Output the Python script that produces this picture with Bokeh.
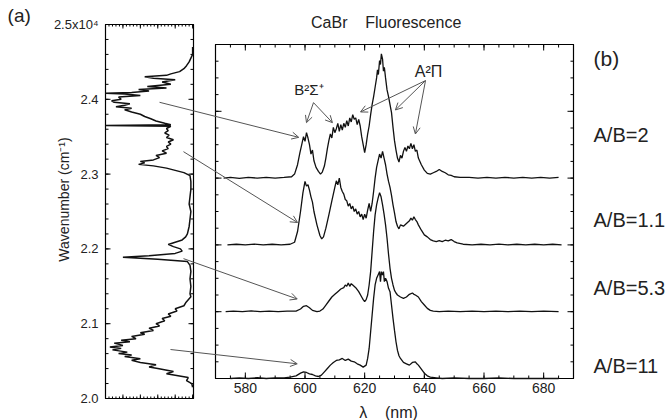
import math
from bokeh.plotting import figure
from bokeh.models import Range1d, Label, Arrow, OpenHead, ColumnDataSource
from bokeh.core.properties import value
from bokeh.embed import file_html
from bokeh.resources import INLINE

FONT = "Liberation Sans"
INK = "#111111"
NB = "\u00a0"

# ---------------- data ----------------
# (a) excitation spectrum: (wavenumber / 1e4 cm-1, intensity)
left_spectrum = [
    (2.015, 0.0), (2.02, 0.01), (2.024, 0.07), (2.028, 0.05), (2.033, 0.3), (2.036, 0.22),
    (2.040, 0.4), (2.042, 0.5), (2.045, 0.42), (2.048, 0.6), (2.051, 0.7), (2.053, 0.6),
    (2.056, 0.78), (2.058, 0.7), (2.060, 0.85), (2.062, 0.75), (2.065, 0.92), (2.067, 0.82),
    (2.069, 0.95), (2.071, 0.8), (2.074, 0.9), (2.076, 0.72), (2.078, 0.82), (2.080, 0.65),
    (2.083, 0.7), (2.086, 0.55), (2.088, 0.6), (2.091, 0.45), (2.094, 0.5), (2.097, 0.38),
    (2.100, 0.42), (2.104, 0.32), (2.107, 0.35), (2.110, 0.25), (2.113, 0.28), (2.117, 0.18),
    (2.120, 0.2), (2.124, 0.1), (2.128, 0.08), (2.132, 0.05), (2.136, 0.02), (2.14, 0.03),
    (2.15, 0.02), (2.16, 0.03), (2.17, 0.02), (2.178, 0.03), (2.183, 0.06), (2.186, 0.4),
    (2.189, 0.8), (2.191, 0.5), (2.194, 0.2), (2.197, 0.12), (2.200, 0.14), (2.203, 0.22),
    (2.206, 0.28), (2.209, 0.2), (2.212, 0.12), (2.216, 0.08), (2.22, 0.06), (2.23, 0.04),
    (2.24, 0.03), (2.25, 0.02), (2.26, 0.04), (2.27, 0.03), (2.28, 0.02), (2.29, 0.02),
    (2.298, 0.03), (2.302, 0.1), (2.305, 0.2), (2.308, 0.3), (2.311, 0.45), (2.313, 0.62),
    (2.315, 0.55), (2.317, 0.6), (2.319, 0.45), (2.322, 0.38), (2.325, 0.42), (2.328, 0.3),
    (2.331, 0.35), (2.334, 0.28), (2.337, 0.3), (2.340, 0.25), (2.343, 0.28), (2.346, 0.22),
    (2.349, 0.3), (2.352, 0.27), (2.355, 0.32), (2.358, 0.28), (2.361, 0.3), (2.364, 0.25),
    (2.365, 1.0), (2.366, 0.25), (2.368, 0.32), (2.371, 0.42), (2.374, 0.48), (2.377, 0.55),
    (2.380, 0.6), (2.383, 0.7), (2.386, 0.78), (2.388, 0.7), (2.390, 0.88), (2.392, 0.78),
    (2.394, 0.72), (2.396, 0.9), (2.398, 0.93), (2.400, 0.82), (2.403, 0.85), (2.405, 0.6),
    (2.407, 0.78), (2.408, 1.0), (2.409, 0.7), (2.411, 0.5), (2.413, 0.62), (2.415, 0.3),
    (2.417, 0.52), (2.420, 0.25), (2.423, 0.35), (2.426, 0.2), (2.428, 0.45), (2.430, 0.55),
    (2.432, 0.3), (2.434, 0.25), (2.437, 0.15), (2.441, 0.1), (2.445, 0.07), (2.450, 0.04),
    (2.455, 0.02), (2.460, 0.0), (2.47, 0.0),
]

# (b) fluorescence spectra: (wavelength nm, intensity above own baseline)
spec_ab2 = [
    (572.7, 0.0), (575, 0.01), (578, -0.005), (581, 0.01), (584, 0.0), (587, 0.012), (590, 0.0),
    (593, 0.01), (595.5, 0.02), (596.5, 0.06), (597.5, 0.2), (598.3, 0.38), (599, 0.52),
    (599.5, 0.62), (600, 0.55), (600.5, 0.68), (601, 0.6), (601.5, 0.5), (602, 0.36), (602.5, 0.42),
    (603, 0.26), (603.7, 0.16), (604.5, 0.1), (605.2, 0.06), (605.8, 0.09), (606.5, 0.18),
    (607, 0.3), (607.5, 0.44), (608, 0.56), (608.5, 0.66), (609, 0.6), (609.5, 0.76), (610, 0.68),
    (610.5, 0.74), (611, 0.82), (611.5, 0.7), (612, 0.8), (612.5, 0.72), (613, 0.82), (613.5, 0.76),
    (614, 0.86), (614.5, 0.78), (615, 0.9), (615.5, 0.84), (616, 0.95), (616.5, 0.88), (617, 0.9),
    (617.5, 0.8), (618, 0.88), (618.5, 0.78), (619, 0.62), (619.5, 0.5), (620, 0.38), (620.5, 0.5),
    (621, 0.66), (621.5, 0.78), (622, 0.95), (622.5, 1.1), (623, 1.22), (623.5, 1.36), (624, 1.5),
    (624.3, 1.62), (624.6, 1.55), (625, 1.76), (625.3, 1.7), (625.6, 1.86), (626, 1.78),
    (626.3, 1.6), (626.6, 1.66), (627, 1.5), (627.5, 1.32), (628, 1.22), (628.5, 1.1), (629, 0.98),
    (629.5, 0.76), (630, 0.56), (630.5, 0.42), (631, 0.3), (631.5, 0.24), (632, 0.34), (632.5, 0.3),
    (633, 0.4), (633.5, 0.46), (634, 0.4), (634.5, 0.48), (635, 0.44), (635.5, 0.52), (636, 0.44),
    (636.5, 0.5), (637, 0.4), (637.5, 0.42), (638, 0.3), (639, 0.2), (640, 0.12), (641, 0.07),
    (642, 0.06), (643, 0.08), (644, 0.1), (645, 0.13), (646, 0.1), (647, 0.08), (648, 0.05),
    (649, 0.04), (650, 0.02), (652, 0.01), (655, 0.012), (658, 0.0), (661, 0.01), (664, 0.0),
    (667, 0.012), (670, 0.0), (673, 0.01), (676, 0.0), (679, 0.01), (682, 0.0), (685, 0.01),
]
spec_ab1_1 = [
    (574, 0.0), (577, 0.01), (580, 0.0), (583, 0.012), (586, 0.0), (589, 0.01), (592, 0.0),
    (595, 0.01), (596.5, 0.04), (597.5, 0.2), (598.5, 0.5), (599.3, 0.78), (600, 0.95),
    (600.5, 0.88), (601, 0.9), (601.5, 0.82), (602, 0.72), (602.5, 0.64), (603, 0.5), (604, 0.3),
    (605, 0.14), (605.6, 0.09), (606.2, 0.12), (607, 0.25), (608, 0.45), (609, 0.66), (609.5, 0.76),
    (610, 0.86), (610.5, 0.96), (611, 0.9), (611.5, 1.0), (612, 0.86), (612.5, 0.8), (613, 0.76),
    (613.5, 0.68), (614, 0.66), (614.5, 0.58), (615, 0.62), (615.5, 0.54), (616, 0.58),
    (616.5, 0.5), (617, 0.54), (617.5, 0.46), (618, 0.5), (618.5, 0.42), (619, 0.46), (619.5, 0.38),
    (620, 0.46), (620.5, 0.4), (621, 0.52), (621.5, 0.62), (622, 0.5), (622.5, 0.62), (623, 0.8),
    (623.5, 1.0), (624, 1.16), (624.5, 1.26), (625, 1.36), (625.5, 1.3), (626, 1.4), (626.5, 1.3),
    (627, 1.2), (627.5, 1.06), (628, 0.95), (628.5, 0.86), (629, 0.74), (629.5, 0.6), (630, 0.48),
    (630.5, 0.35), (631, 0.28), (631.5, 0.24), (632, 0.3), (633, 0.28), (634, 0.32), (635, 0.36),
    (635.5, 0.4), (636, 0.37), (636.5, 0.42), (637, 0.38), (637.5, 0.35), (638, 0.3), (639, 0.22),
    (640, 0.15), (641, 0.12), (642, 0.08), (643, 0.06), (644, 0.05), (645, 0.065), (646, 0.05),
    (647, 0.07), (648, 0.06), (649, 0.08), (650, 0.05), (651, 0.03), (653, 0.01), (656, 0.0),
    (659, 0.01), (662, 0.0), (665, 0.012), (668, 0.0), (671, 0.01), (674, 0.0), (677, 0.01),
    (680, 0.0), (683, 0.01), (686, 0.0),
]
spec_ab5_3 = [
    (573.4, 0.0), (576, 0.01), (579, 0.0), (582, 0.012), (585, 0.0), (588, 0.01), (591, 0.0),
    (594, 0.01), (597, 0.01), (598.5, 0.04), (599.5, 0.08), (600.5, 0.09), (601.5, 0.06),
    (602.5, 0.02), (604, 0.0), (605, 0.01), (606, 0.04), (607, 0.1), (608, 0.16), (609, 0.22),
    (610, 0.26), (611, 0.3), (612, 0.34), (613, 0.36), (613.5, 0.4), (614, 0.38), (614.5, 0.43),
    (615, 0.38), (615.5, 0.42), (616, 0.4), (617, 0.36), (618, 0.3), (619, 0.22), (619.5, 0.18),
    (620, 0.15), (620.5, 0.18), (621, 0.25), (621.5, 0.4), (622, 0.6), (622.5, 0.9), (623, 1.2),
    (623.5, 1.45), (624, 1.6), (624.5, 1.7), (625, 1.78), (625.5, 1.72), (626, 1.6), (626.5, 1.46),
    (627, 1.3), (627.5, 1.1), (628, 0.86), (628.5, 0.65), (629, 0.5), (629.5, 0.4), (630, 0.32),
    (630.5, 0.28), (631, 0.25), (632, 0.22), (633, 0.2), (634, 0.22), (635, 0.26), (636, 0.28),
    (636.5, 0.26), (637, 0.25), (638, 0.22), (639, 0.15), (640, 0.1), (641, 0.05), (642, 0.02),
    (643, 0.01), (645, 0.0), (648, 0.01), (652, 0.0), (656, 0.01), (660, 0.0), (664, 0.01),
    (668, 0.0), (672, 0.01), (676, 0.0), (680, 0.01), (685, 0.0),
]
spec_ab11 = [
    (575, 0.0), (578, 0.01), (581, 0.0), (584, 0.012), (587, 0.0), (590, 0.01), (593, 0.01),
    (595, 0.02), (597, 0.04), (598.5, 0.08), (599.5, 0.1), (600.5, 0.09), (601.5, 0.07),
    (602.5, 0.06), (603.5, 0.04), (604.5, 0.03), (605.5, 0.05), (606.5, 0.1), (607.5, 0.15),
    (608.5, 0.2), (609.5, 0.24), (610.5, 0.27), (611.5, 0.28), (612.5, 0.3), (613.5, 0.27),
    (614.5, 0.29), (615.5, 0.26), (616.5, 0.25), (617.5, 0.22), (618.5, 0.2), (619.5, 0.17),
    (620.5, 0.2), (621, 0.3), (621.5, 0.45), (622, 0.7), (622.5, 0.95), (623, 1.2), (623.5, 1.4),
    (624, 1.5), (624.5, 1.55), (625, 1.6), (625.3, 1.45), (625.6, 1.6), (626, 1.55), (626.3, 1.6),
    (626.6, 1.45), (627, 1.5), (627.5, 1.45), (628, 1.35), (628.5, 1.3), (629, 1.1), (629.5, 0.9),
    (630, 0.72), (630.5, 0.55), (631, 0.42), (631.5, 0.34), (632, 0.3), (633, 0.24), (634, 0.22),
    (635, 0.2), (636, 0.24), (637, 0.25), (637.5, 0.22), (638, 0.2), (639, 0.14), (640, 0.08),
    (641, 0.04), (642, 0.02), (644, 0.01), (646, 0.0), (650, 0.01), (655, 0.0), (660, 0.0),
    (665, 0.01), (670, 0.0), (675, 0.0), (680, 0.0), (685, 0.0),
]
series_names = ["A/B=2", "A/B=1.1", "A/B=5.3", "A/B=11"]
series_offsets = [3, 2, 1, 0]
series_data = [spec_ab2, spec_ab1_1, spec_ab5_3, spec_ab11]

a_tick_values = [2.0, 2.1, 2.2, 2.3, 2.4, 2.5]
a_tick_labels = ["2.0", "2.1", "2.2", "2.3", "2.4", "2.5x10\u2074"]
b_tick_values = [580, 600, 620, 640, 660, 680]
b_tick_labels = ["580", "600", "620", "640", "660", "680"]

# arrows from (a) to (b): start (intensity, wavenumber) in (a), end (nm, offset intensity) in (b)
cross_start_int = [0.38, 0.105, 0.105, 0.254]
cross_start_wn = [2.396, 2.330, 2.187, 2.0655]
cross_end_wl = [597.9, 597.5, 597.4, 597.4]
cross_end_y = [3.61, 2.335, 1.19, 0.22]
# band-label arrows inside (b)
band_start_wl = [602.85, 602.85, 640.4, 640.4, 640.4]
band_start_y = [4.13, 4.13, 4.46, 4.46, 4.46]
band_end_wl = [600.5, 609.2, 618.6, 630.3, 637.0]
band_end_y = [3.83, 3.83, 3.99, 4.02, 3.66]

# ---------------- geometry (pixels) ----------------
W, H = 670, 420
A_L, A_R, A_T, A_B = 105, 193, 24, 398     # panel (a) box
B_L, B_R, B_T, B_B = 215, 573, 44, 378     # panel (b) box
AX0, AX1 = 1.0, -0.01                       # panel (a) intensity (reversed)
AY0, AY1 = 2.0, 2.5                         # panel (a) wavenumber
BX0, BX1 = 570.0, 690.0                     # panel (b) wavelength
BY0, BY1 = 0.0, 5.0                         # panel (b) stacked intensity
SX = (AX1 - AX0) / (A_R - A_L)
SY = (AY1 - AY0) / (A_B - A_T)
KX = (BX1 - BX0) / (B_R - B_L)
KY = (BY1 - BY0) / (B_B - B_T)


def a_to_b(i, wn):
    px = A_L + (i - AX0) / SX
    py = A_B - (wn - AY0) / SY
    return BX0 + (px - B_L) * KX, BY0 + (B_B - py) * KY


p = figure(width=W, height=H,
           x_range=Range1d(BX0 - B_L * KX, BX0 + (W - B_L) * KX),
           y_range=Range1d(BY0 + (B_B - H) * KY, BY0 + B_B * KY),
           output_backend="svg", toolbar_location=None, title=None,
           x_axis_location=None, y_axis_location=None, min_border=0)
p.extra_x_ranges = {"a_x": Range1d(AX0 - A_L * SX, AX0 + (W - A_L) * SX)}
p.extra_y_ranges = {"a_y": Range1d(AY0 + (A_B - H) * SY, AY0 + A_B * SY)}
p.grid.visible = False
p.outline_line_color = None
p.background_fill_color = "white"
p.border_fill_color = "white"

A = dict(x_range_name="a_x", y_range_name="a_y")

# panel boxes
p.quad(left=[AX0], right=[AX1], bottom=[AY0], top=[AY1], fill_color="white",
       line_color="black", line_width=1.2, **A)
p.quad(left=[BX0], right=[BX1], bottom=[BY0], top=[BY1], fill_color="white",
       line_color="black", line_width=1.2)


def ticks(xs, ys, angle, length, **kw):
    p.ray(x=xs, y=ys, length=length, angle=angle, length_units="screen",
          line_color="black", line_width=1, **kw)


# panel (a) ticks
a_minor_y = [round(AY0 + 0.02 * k, 3) for k in range(26)]
a_minor_x = [round(0.04 * k, 3) for k in range(26)]
a_major_x = [0.0, 0.2, 0.4, 0.6, 0.8, 1.0]
ticks([AX0] * 6, a_tick_values, 0, 5, **A)
ticks([AX0] * 26, a_minor_y, 0, 3, **A)
ticks([AX1] * 6, a_tick_values, math.pi, 5, **A)
ticks([AX1] * 26, a_minor_y, math.pi, 3, **A)
ticks(a_major_x, [AY0] * 6, math.pi / 2, 4, **A)
ticks(a_minor_x, [AY0] * 26, math.pi / 2, 2, **A)
ticks(a_major_x, [AY1] * 6, -math.pi / 2, 4, **A)
ticks(a_minor_x, [AY1] * 26, -math.pi / 2, 2, **A)

# panel (b) ticks
b_minor_x = list(range(570, 691, 5))
b_major_y = [0, 1, 2, 3, 4, 5]
b_minor_y = [0.25 * k for k in range(21)]
ticks(b_tick_values, [BY0] * 6, math.pi / 2, 6)
ticks(b_minor_x, [BY0] * len(b_minor_x), math.pi / 2, 3)
ticks(b_tick_values, [BY1] * 6, -math.pi / 2, 6)
ticks(b_minor_x, [BY1] * len(b_minor_x), -math.pi / 2, 3)
ticks([BX0] * 6, b_major_y, 0, 6)
ticks([BX0] * 21, b_minor_y, 0, 3)
ticks([BX1] * 6, b_major_y, math.pi, 6)
ticks([BX1] * 21, b_minor_y, math.pi, 3)

# spectra
lw, li = zip(*left_spectrum)
p.line(x=list(li), y=list(lw), line_color=INK, line_width=1.5, **A)
for data, off in zip(series_data, series_offsets):
    wl, it = zip(*data)
    p.line(x=list(wl), y=[v + off for v in it], line_color=INK, line_width=1.3)

# tick labels
p.text(x=[AX0] * 6, y=a_tick_values, text=a_tick_labels, x_offset=-7,
       text_font=value(FONT), text_font_size=value("13px"), text_color="#222",
       text_align="right", text_baseline="middle", **A)
p.text(x=b_tick_values, y=[BY0] * 6, text=b_tick_labels, y_offset=4,
       text_font=value(FONT), text_font_size=value("14px"), text_color="#222",
       text_align="center", text_baseline="top")

# axis titles
p.text(x=[AX0], y=[(AY0 + AY1) / 2], text=["Wavenumber (cm\u207b\u00b9)"], x_offset=-42,
       y_offset=-12, angle=math.pi / 2, text_font=value(FONT), text_font_size=value("14px"),
       text_color="#222", text_align="center", text_baseline="middle", **A)
p.text(x=[(BX0 + BX1) / 2], y=[BY0], text=["\u03bb" + NB * 4 + "(nm)"], x_offset=-6,
       y_offset=34, text_font=value(FONT), text_font_size=value("16px"), text_color="#222",
       text_align="center", text_baseline="middle")

# arrows
xs0, ys0 = [], []
for i, wn in zip(cross_start_int, cross_start_wn):
    sx, sy = a_to_b(i, wn)
    xs0.append(sx)
    ys0.append(sy)
arrow_src = ColumnDataSource(dict(
    x0=xs0 + band_start_wl, y0=ys0 + band_start_y,
    x1=cross_end_wl + band_end_wl, y1=cross_end_y + band_end_y))
p.add_layout(Arrow(source=arrow_src, x_start="x0", y_start="y0", x_end="x1", y_end="y1",
                   line_color="#555", line_width=1,
                   end=OpenHead(size=7, line_color="#555", line_width=1)))

# text labels
label_y = [3.64, 2.37, 1.36, 0.19]
p.text(x=[696.7] * 4, y=label_y, text=series_names, text_font=value(FONT),
       text_font_size=value("20px"), text_color="#222", text_align="left",
       text_baseline="middle")
p.add_layout(Label(x=696.7, y=4.79, text="(b)", text_font=FONT, text_font_size="21px",
                   text_color="#222", text_align="left", text_baseline="middle"))
p.add_layout(Label(x=500.3, y=5.434, text="(a)", text_font=FONT, text_font_size="19px",
                   text_color="#222", text_align="left", text_baseline="middle"))
p.add_layout(Label(x=627.2, y=5.33, text="CaBr" + NB * 4 + "Fluorescence", text_font=FONT,
                   text_font_size="16px", text_color="#222", text_align="center",
                   text_baseline="middle"))
p.add_layout(Label(x=601.3, y=4.326, text="B\u00b2\u03a3\u207a", text_font=FONT,
                   text_font_size="15px", text_color="#222", text_align="center",
                   text_baseline="middle"))
p.add_layout(Label(x=641.4, y=4.596, text="A\u00b2\u03a0", text_font=FONT,
                   text_font_size="16px", text_color="#222", text_align="center",
                   text_baseline="middle"))

open("out.html", "w").write(file_html(p, INLINE))
